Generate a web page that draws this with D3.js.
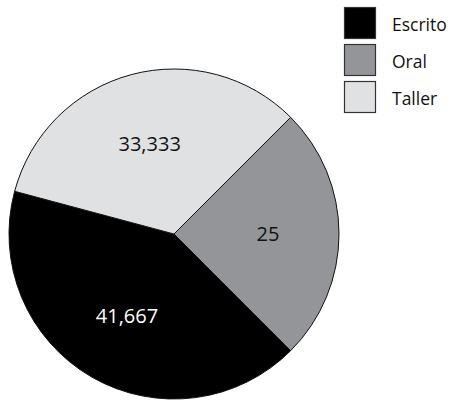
<!DOCTYPE html>
<html>
<head>
<meta charset="utf-8">
<script src="https://cdn.jsdelivr.net/npm/d3@7"></script>
<style>
  html, body { margin: 0; padding: 0; background: #fff; }
  svg { display: block; }
</style>
</head>
<body>
<svg id="chart" width="456" height="400"></svg>
<script>
// Share of each evaluation type
const categories = ["Escrito", "Oral", "Taller"];
const values = [41.667, 25, 33.333];
const valueLabels = ["41,667", "25", "33,333"];
const colors = ["#000000", "#939598", "#e0e1e3"];
const labelColors = ["#ffffff", "#111111", "#111111"];

const svg = d3.select("#chart");
const cx = 174, cy = 234, radius = 165;
const fontFamily = "'Open Sans', 'Noto Sans', sans-serif";

const data = categories.map((c, i) => ({ name: c, value: values[i], label: valueLabels[i], i }));

// Slices run counter-clockwise, starting just above the left edge
const start = 285 * Math.PI / 180;
const pie = d3.pie()
  .sort(null)
  .value(d => d.value)
  .startAngle(start)
  .endAngle(start - 2 * Math.PI);

const arc = d3.arc().innerRadius(0).outerRadius(radius);
const labelArc = d3.arc().innerRadius(radius * 0.57).outerRadius(radius * 0.57);

const g = svg.append("g").attr("transform", `translate(${cx},${cy})`);

const arcs = pie(data);

g.selectAll("path.slice")
  .data(arcs)
  .join("path")
  .attr("class", "slice")
  .attr("d", arc)
  .attr("fill", d => colors[d.data.i])
  .attr("stroke", "#111")
  .attr("stroke-width", 1)
  .attr("stroke-linejoin", "round");

g.selectAll("text.value")
  .data(arcs)
  .join("text")
  .attr("class", "value")
  .attr("transform", d => `translate(${labelArc.centroid(d)})`)
  .attr("text-anchor", "middle")
  .attr("dominant-baseline", "central")
  .attr("font-family", fontFamily)
  .attr("font-size", 20)
  .attr("fill", d => labelColors[d.data.i])
  .text(d => d.data.label);

// Legend
const legend = svg.append("g").attr("transform", "translate(344,7)");
const rowStep = 37, box = 31;

const rows = legend.selectAll("g.row")
  .data(data)
  .join("g")
  .attr("class", "row")
  .attr("transform", (d, i) => `translate(0,${i * rowStep})`);

rows.append("rect")
  .attr("x", 0.5)
  .attr("y", 0.5)
  .attr("width", box)
  .attr("height", box)
  .attr("fill", d => colors[d.i])
  .attr("stroke", "#333")
  .attr("stroke-width", 1.2);

rows.append("text")
  .attr("x", 48)
  .attr("y", box / 2 + 1)
  .attr("dominant-baseline", "central")
  .attr("font-family", fontFamily)
  .attr("font-size", 17.5)
  .attr("fill", "#111")
  .text(d => d.name);
</script>
</body>
</html>
